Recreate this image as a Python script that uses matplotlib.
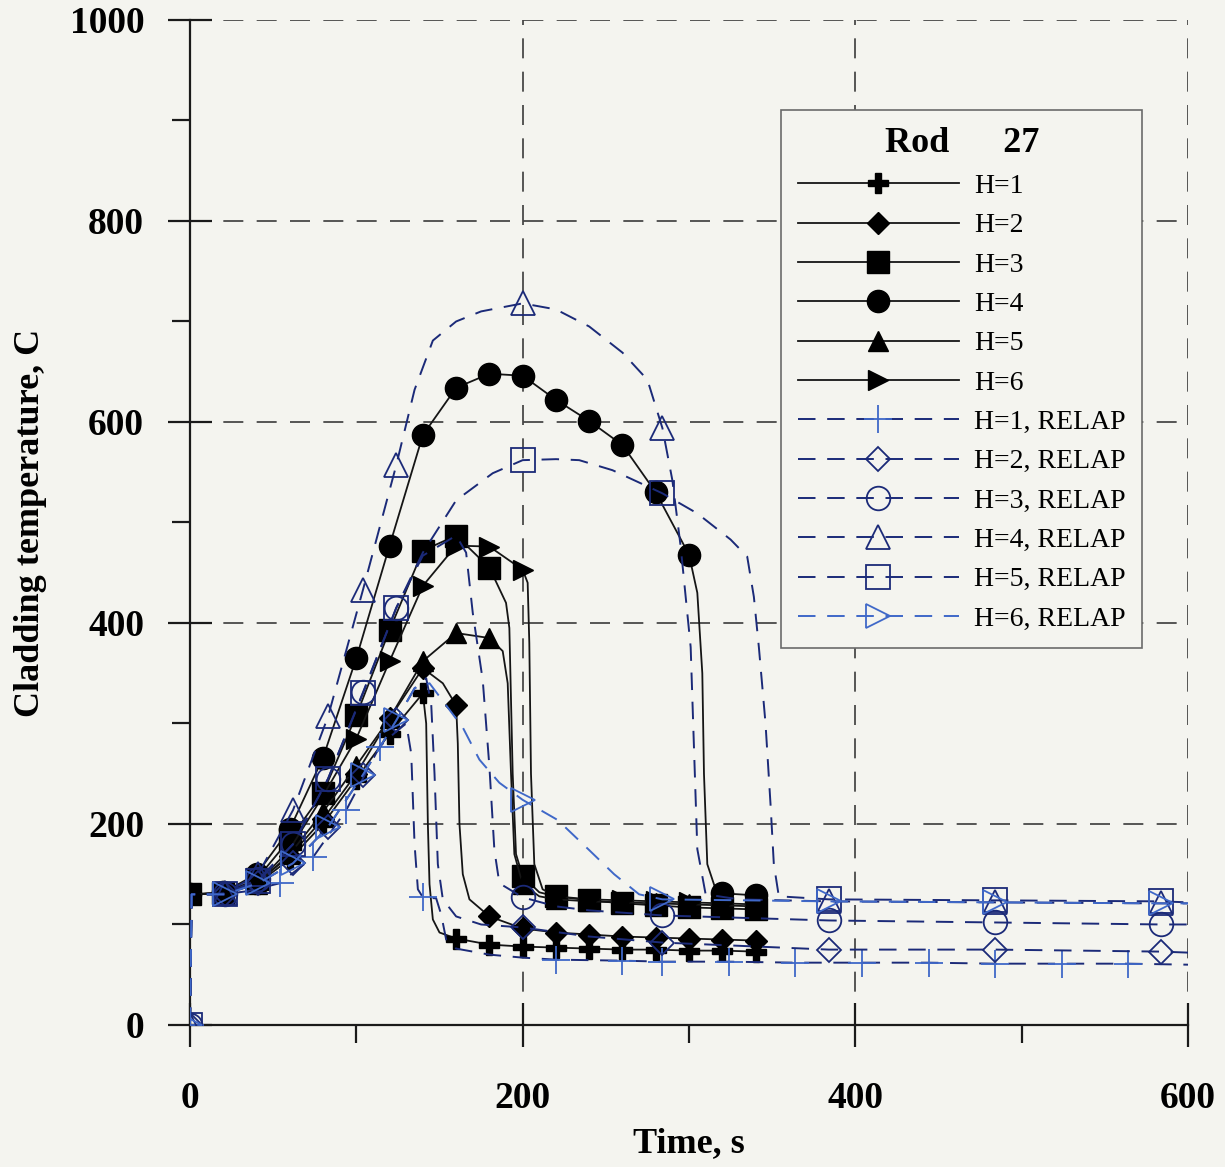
import numpy as np
import matplotlib
matplotlib.use("Agg")
import matplotlib.pyplot as plt
from matplotlib.ticker import MultipleLocator

plt.rcParams['font.family'] = ['Liberation Serif', 'DejaVu Serif']

# measured cladding temperatures, rod 27 (time s, temperature C)
t_h1 = [0, 20, 40, 60, 80, 100, 120, 140, 142, 143, 144, 146, 150, 160, 180, 200, 220, 240, 260, 280, 300, 320, 340]
T_h1 = [130, 131, 140, 165, 200, 245, 290, 330, 300, 200, 140, 105, 92, 86, 80, 78, 77, 76, 75, 75, 74, 74, 73]

t_h2 = [0, 20, 40, 60, 80, 100, 120, 140, 152, 160, 161, 162, 164, 168, 180, 200, 220, 240, 260, 280, 300, 320, 340]
T_h2 = [130, 131, 142, 168, 205, 250, 305, 355, 340, 318, 280, 200, 150, 125, 108, 96, 92, 90, 88, 87, 86, 85, 84]

t_h3 = [0, 20, 40, 60, 80, 100, 120, 140, 160, 180, 190, 192, 194, 196, 200, 210, 220, 240, 260, 280, 300, 320, 340]
T_h3 = [130, 131, 145, 185, 231, 308, 393, 472, 487, 455, 420, 395, 250, 170, 148, 132, 128, 124, 121, 119, 117, 116, 115]

t_h4 = [0, 20, 40, 60, 80, 100, 120, 140, 160, 180, 200, 220, 240, 260, 280, 300, 305, 308, 309, 311, 316, 320, 340]
T_h4 = [130, 132, 150, 195, 266, 365, 477, 587, 634, 648, 646, 622, 601, 577, 530, 468, 430, 350, 250, 160, 135, 131, 129]

t_h5 = [0, 20, 40, 60, 80, 100, 120, 140, 160, 180, 188, 191, 193, 195, 200, 210, 220, 240, 260, 280, 300, 320, 340]
T_h5 = [130, 131, 140, 170, 212, 258, 305, 362, 390, 385, 372, 340, 250, 170, 140, 128, 125, 123, 122, 121, 120, 119, 118]

t_h6 = [0, 20, 40, 60, 80, 100, 120, 140, 160, 180, 200, 203, 204, 205, 207, 212, 220, 240, 260, 280, 300, 320, 340]
T_h6 = [130, 131, 140, 175, 228, 285, 362, 437, 477, 476, 453, 440, 380, 250, 160, 135, 128, 125, 124, 123, 122, 121, 120]

# RELAP calculation
t_r1 = [0, 1, 20, 34, 54, 74, 94, 114, 124, 130, 133, 135, 137, 140, 148, 151, 154, 160, 180, 200, 220, 260, 284,
        324, 364, 404, 444, 484, 524, 564, 600]
T_r1 = [0, 130, 130, 133, 141, 167, 214, 277, 292, 300, 270, 180, 135, 127, 126, 110, 85, 76, 70, 67, 65, 64, 63,
        63, 62, 62, 62, 61, 61, 61, 60]
m_r1 = [0, 54, 74, 94, 114, 140, 220, 260, 284, 324, 364, 404, 444, 484, 524, 564]

t_r2 = [0, 1, 21, 41, 62, 83, 104, 124, 135, 142, 145, 147, 149, 152, 160, 175, 200, 240, 284, 384, 484, 584, 600]
T_r2 = [0, 130, 130, 141, 161, 197, 249, 303, 335, 345, 320, 250, 160, 125, 108, 100, 97, 88, 82, 75, 75, 73, 72]

t_r3 = [0, 1, 21, 41, 62, 83, 104, 124, 140, 160, 166, 170, 176, 180, 183, 186, 200, 220, 240, 284, 384, 484, 584, 600]
T_r3 = [0, 130, 130, 145, 180, 245, 331, 415, 467, 487, 470, 410, 343, 257, 174, 141, 127, 118, 114, 109, 104, 102, 100, 100]

t_r4 = [0, 1, 21, 41, 62, 83, 104, 124, 135, 146, 160, 175, 200, 220, 240, 260, 275, 284, 290, 295, 301, 305, 310,
        330, 384, 484, 584, 600]
T_r4 = [0, 130, 131, 150, 214, 307, 433, 557, 632, 681, 700, 710, 718, 712, 695, 669, 642, 594, 542, 476, 376, 175, 130,
        125, 123, 122, 121, 121]

t_r5 = [0, 1, 21, 41, 62, 83, 104, 124, 140, 160, 182, 200, 220, 234, 254, 284, 305, 325, 335, 339, 342, 346, 349,
        351, 354, 384, 484, 584, 600]
T_r5 = [0, 130, 130, 143, 180, 245, 330, 415, 470, 522, 549, 562, 563, 562, 552, 529, 509, 483, 466, 426, 376, 300, 220,
        160, 128, 125, 124, 123, 122]

t_r6 = [0, 1, 21, 41, 62, 83, 104, 124, 135, 144, 164, 174, 186, 200, 221, 240, 255, 270, 284, 384, 484, 584, 600]
T_r6 = [0, 130, 130, 141, 161, 197, 249, 303, 335, 340, 296, 264, 241, 224, 204, 174, 150, 130, 125, 123, 122, 121, 121]

m_relap = [0, 21, 41, 62, 83, 104, 124, 200, 284, 384, 484, 584]

bg = '#f4f4ef'
navy = '#1b2a78'
light = '#3f68c8'

fig = plt.figure(figsize=(12.25, 11.67), dpi=100, facecolor=bg)
ax = fig.add_axes([0.1551, 0.1217, 0.8147, 0.8612])
ax.set_facecolor(bg)


def every20(t):
    return [i for i, x in enumerate(t) if x % 20 == 0]


def at_times(t, marks):
    return [t.index(m) for m in marks]


exp = [
    (t_h1, T_h1, 'P', 15, 'H=1'),
    (t_h2, T_h2, 'D', 11, 'H=2'),
    (t_h3, T_h3, 's', 16, 'H=3'),
    (t_h4, T_h4, 'o', 16, 'H=4'),
    (t_h5, T_h5, '^', 14, 'H=5'),
    (t_h6, T_h6, '>', 15, 'H=6'),
]
handles = []
for t, T, mk, ms, lab in exp:
    ln, = ax.plot(t, T, color='#151515', lw=1.3, marker=mk, ms=ms, mfc='black', mec='black',
                  markevery=every20(t), label=lab, zorder=3)
    handles.append(ln)

relap = [
    (t_r1, T_r1, '+', 20, m_r1, light, 'H=1, RELAP'),
    (t_r2, T_r2, 'D', 12, m_relap, navy, 'H=2, RELAP'),
    (t_r3, T_r3, 'o', 17, m_relap, navy, 'H=3, RELAP'),
    (t_r4, T_r4, '^', 17, m_relap, navy, 'H=4, RELAP'),
    (t_r5, T_r5, 's', 17, m_relap, navy, 'H=5, RELAP'),
    (t_r6, T_r6, '>', 17, m_relap, light, 'H=6, RELAP'),
]
for t, T, mk, ms, marks, mc, lab in relap:
    lc = light if lab.startswith('H=6') else navy
    ln, = ax.plot(t, T, color=lc, lw=1.4, dashes=(9, 6), marker=mk, ms=ms, mfc='none', mec=mc,
                  mew=1.3, markevery=at_times(t, marks), label=lab, zorder=4)
    handles.append(ln)

ax.set_xlim(0, 600)
ax.set_ylim(0, 1000)
ax.xaxis.set_major_locator(MultipleLocator(200))
ax.xaxis.set_minor_locator(MultipleLocator(100))
ax.yaxis.set_major_locator(MultipleLocator(200))
ax.yaxis.set_minor_locator(MultipleLocator(100))
ax.grid(True, which='major', color='#3a3a3a', lw=1.2, dashes=(12, 8))
ax.set_axisbelow(True)
for s in ['top', 'right']:
    ax.spines[s].set_visible(False)
for s in ['left', 'bottom']:
    ax.spines[s].set_linewidth(1.6)
    ax.spines[s].set_color('#1a1a1a')
ax.tick_params(which='major', direction='inout', length=32, width=1.6, color='#1a1a1a')
ax.tick_params(which='minor', direction='out', length=13, width=1.6, color='#1a1a1a')
ax.tick_params(axis='y', which='major', pad=17, labelsize=27)
ax.tick_params(axis='x', which='major', pad=24, labelsize=27)
for lbl in ax.get_xticklabels() + ax.get_yticklabels():
    lbl.set_fontweight('bold')

ax.set_xlabel('Time, s', fontsize=26, fontweight='bold', labelpad=8)
ax.set_ylabel('Cladding temperature, C', fontsize=26, fontweight='bold', labelpad=16)

leg = ax.legend(handles=handles, loc='upper left', bbox_to_anchor=(0.6376, 0.9057),
                bbox_transform=fig.transFigure, borderaxespad=0, fontsize=20, title='Rod      27',
                title_fontproperties={'weight': 'bold', 'size': 26},
                handlelength=5.8, handletextpad=0.55, labelspacing=0.5, borderpad=0.6,
                numpoints=1, frameon=True, fancybox=False, facecolor=bg, edgecolor='#6a6a6a',
                framealpha=1)
leg.get_frame().set_linewidth(1.2)

fig.savefig('out.png', dpi=100, facecolor=bg)
